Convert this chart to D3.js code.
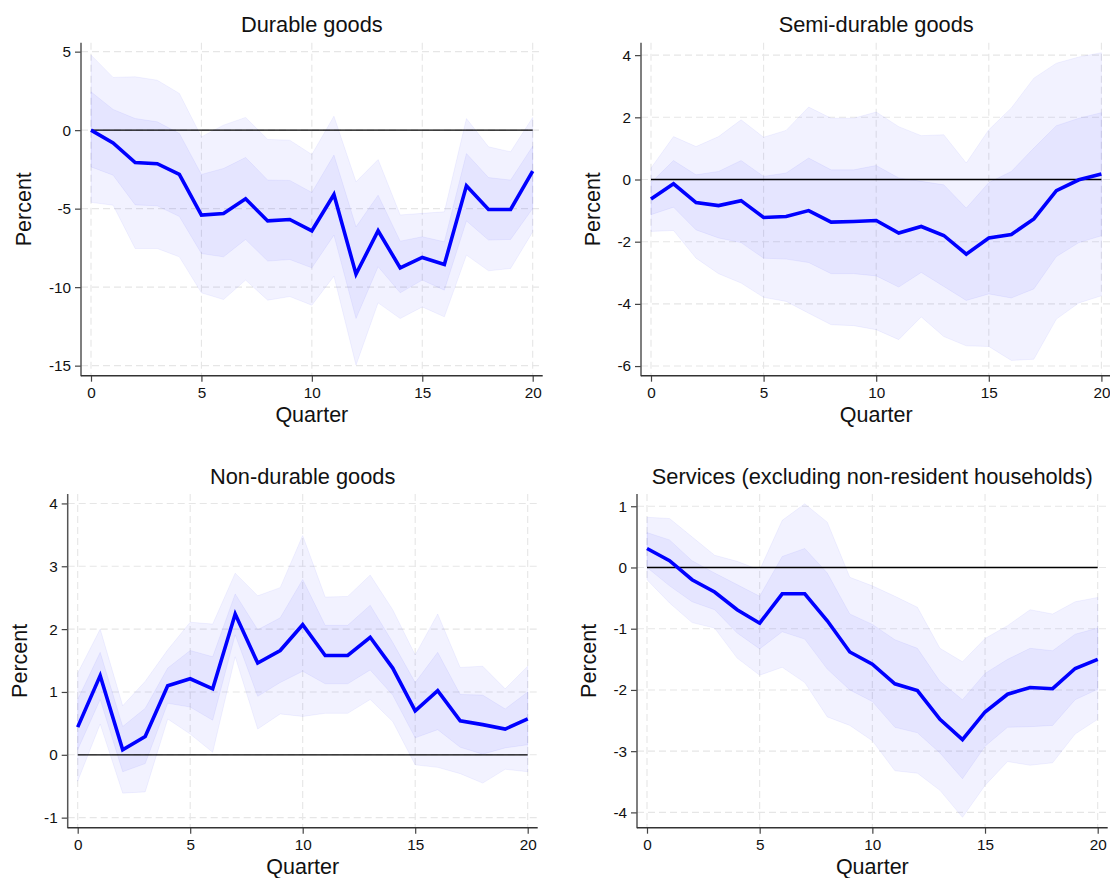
<!DOCTYPE html>
<html>
<head>
<meta charset="utf-8">
<script src="https://cdn.jsdelivr.net/npm/d3@7"></script>
<style>
  body { margin: 0; background: #fff; }
  text { font-family: "Liberation Sans", Arial, sans-serif; fill: #111; }
</style>
</head>
<body>
<script>
// quarters after the shock
const quarters = [0,1,2,3,4,5,6,7,8,9,10,11,12,13,14,15,16,17,18,19,20];
const xTicks = [0, 5, 10, 15, 20];

// Durable goods
const durableTicks = [-15, -10, -5, 0, 5];
const durableMain = [0, -0.81, -2.06, -2.14, -2.82, -5.41, -5.31, -4.37, -5.78, -5.69, -6.41, -4.1, -9.17, -6.41, -8.77, -8.11, -8.56, -3.55, -5.05, -5.05, -2.61];
const durableInnerHi = [2.44, 1.32, 0.74, 0.53, -0.21, -2.82, -2.44, -1.74, -3.18, -3.2, -3.97, -1.59, -6.16, -4.14, -7.07, -6.79, -7.11, -1.49, -3.02, -3.18, -1.02];
const durableInnerLo = [-2.34, -2.87, -4.76, -4.82, -5.5, -7.86, -8.07, -6.96, -8.34, -8.24, -8.77, -6.69, -12.0, -8.7, -10.36, -9.55, -10.19, -5.78, -7.0, -6.96, -4.99];
const durableOuterHi = [4.78, 3.36, 3.4, 3.18, 2.34, -0.43, 0.32, 0.81, -0.59, -0.64, -1.55, 0.89, -3.29, -1.87, -5.4, -5.3, -5.2, 0.74, -1.06, -1.38, 0.81];
const durableOuterLo = [-4.6, -4.78, -7.54, -7.54, -8.07, -10.36, -10.79, -9.55, -10.83, -10.6, -11.15, -9.3, -14.97, -11.0, -12.0, -11.26, -11.89, -7.96, -8.96, -8.81, -6.48];

// Semi-durable goods
const semiTicks = [-6, -4, -2, 0, 2, 4];
const semiMain = [-0.63, -0.14, -0.74, -0.84, -0.68, -1.22, -1.19, -1.0, -1.37, -1.35, -1.32, -1.72, -1.51, -1.8, -2.4, -1.88, -1.77, -1.27, -0.36, -0.01, 0.18];
const semiInnerHi = [-0.1, 0.61, 0.15, 0.26, 0.61, 0.1, 0.21, 0.69, 0.31, 0.31, 0.45, 0.05, -0.06, -0.17, -0.92, -0.1, 0.26, 1.01, 1.73, 1.97, 2.15];
const semiInnerLo = [-1.13, -0.89, -1.62, -1.88, -2.03, -2.53, -2.56, -2.67, -3.03, -3.03, -3.1, -3.46, -2.99, -3.44, -3.89, -3.68, -3.81, -3.52, -2.48, -2.03, -1.81];
const semiOuterHi = [0.37, 1.38, 1.06, 1.38, 1.92, 1.36, 1.58, 2.33, 1.97, 1.97, 2.17, 1.7, 1.41, 1.44, 0.53, 1.6, 2.3, 3.26, 3.74, 3.94, 4.08];
const semiOuterLo = [-1.67, -1.64, -2.53, -3.03, -3.33, -3.79, -3.92, -4.3, -4.67, -4.7, -4.83, -5.15, -4.42, -5.05, -5.35, -5.37, -5.82, -5.78, -4.49, -3.97, -3.74];

// Non-durable goods
const nonTicks = [-1, 0, 1, 2, 3, 4];
const nonMain = [0.44, 1.26, 0.08, 0.29, 1.1, 1.21, 1.05, 2.24, 1.46, 1.66, 2.07, 1.58, 1.58, 1.87, 1.38, 0.7, 1.02, 0.54, 0.48, 0.41, 0.57];
const nonInnerHi = [0.88, 1.63, 0.45, 0.74, 1.38, 1.66, 1.56, 2.56, 1.99, 2.18, 2.79, 2.06, 2.06, 2.38, 1.79, 1.15, 1.63, 0.96, 0.95, 0.73, 1.0];
const nonInnerLo = [0.08, 0.88, -0.27, -0.14, 0.82, 0.76, 0.55, 1.91, 0.93, 1.15, 1.33, 1.13, 1.13, 1.35, 0.95, 0.27, 0.4, 0.12, 0.01, 0.11, 0.16];
const nonOuterHi = [1.3, 2.0, 0.78, 1.17, 1.67, 2.11, 2.08, 2.89, 2.53, 2.66, 3.49, 2.51, 2.52, 2.86, 2.31, 1.59, 2.24, 1.39, 1.41, 1.05, 1.41];
const nonOuterLo = [-0.42, 0.49, -0.61, -0.59, 0.57, 0.33, 0.04, 1.56, 0.41, 0.65, 0.61, 0.66, 0.66, 0.88, 0.53, -0.16, -0.2, -0.3, -0.45, -0.23, -0.27];

// Services (excluding non-resident households)
const servTicks = [-4, -3, -2, -1, 0, 1];
const servMain = [0.31, 0.11, -0.2, -0.4, -0.69, -0.91, -0.43, -0.43, -0.87, -1.38, -1.58, -1.9, -2.01, -2.48, -2.81, -2.36, -2.07, -1.96, -1.98, -1.65, -1.5];
const servInnerHi = [0.57, 0.45, 0.11, -0.09, -0.28, -0.47, 0.18, 0.31, -0.09, -0.76, -0.93, -1.18, -1.32, -1.86, -2.16, -1.73, -1.5, -1.32, -1.36, -1.09, -0.99];
const servInnerLo = [0.0, -0.3, -0.56, -0.69, -1.07, -1.33, -1.05, -1.17, -1.66, -2.0, -2.19, -2.61, -2.7, -3.03, -3.45, -2.92, -2.61, -2.6, -2.58, -2.16, -1.99];
const servOuterHi = [0.82, 0.8, 0.5, 0.2, 0.1, -0.04, 0.77, 1.04, 0.74, -0.16, -0.3, -0.47, -0.65, -1.32, -1.54, -1.16, -0.95, -0.69, -0.76, -0.56, -0.49];
const servOuterLo = [-0.2, -0.58, -0.9, -0.99, -1.48, -1.76, -1.63, -1.88, -2.44, -2.58, -2.83, -3.32, -3.36, -3.64, -4.08, -3.56, -3.17, -3.23, -3.19, -2.72, -2.48];

const panels = [
  { title: "Durable goods", ticks: durableTicks, yDomain: [-15.64, 5.57],
    main: durableMain, innerHi: durableInnerHi, innerLo: durableInnerLo, outerHi: durableOuterHi, outerLo: durableOuterLo,
    frame: { left: 81, top: 42.7, right: 542.7, bottom: 375.7 } },
  { title: "Semi-durable goods", ticks: semiTicks, yDomain: [-6.31, 4.4],
    main: semiMain, innerHi: semiInnerHi, innerLo: semiInnerLo, outerHi: semiOuterHi, outerLo: semiOuterLo,
    frame: { left: 641, top: 42.7, right: 1111.4, bottom: 375.7 } },
  { title: "Non-durable goods", ticks: nonTicks, yDomain: [-1.16, 4.15],
    main: nonMain, innerHi: nonInnerHi, innerLo: nonInnerLo, outerHi: nonOuterHi, outerLo: nonOuterLo,
    frame: { left: 67.7, top: 494, right: 537.7, bottom: 827.7 } },
  { title: "Services (excluding non-resident households)", ticks: servTicks, yDomain: [-4.25, 1.2],
    main: servMain, innerHi: servInnerHi, innerLo: servInnerLo, outerHi: servOuterHi, outerLo: servOuterLo,
    frame: { left: 637, top: 494, right: 1107.7, bottom: 827.7 } }
];

const width = 1110, height = 878;
const xPad = 10;

const svg = d3.select("body").append("svg")
  .attr("width", width)
  .attr("height", height);

panels.forEach(p => {
  const f = p.frame;
  const x = d3.scaleLinear().domain([0, 20]).range([f.left + xPad, f.right - xPad]);
  const y = d3.scaleLinear().domain(p.yDomain).range([f.bottom, f.top]);
  const g = svg.append("g");

  // dashed grid
  g.selectAll(".hgrid").data(p.ticks).enter().append("line")
    .attr("x1", f.left).attr("x2", f.right)
    .attr("y1", d => y(d)).attr("y2", d => y(d))
    .attr("stroke", "#e6e6e6").attr("stroke-width", 1.1)
    .attr("stroke-dasharray", "7,4");
  g.selectAll(".vgrid").data(xTicks).enter().append("line")
    .attr("x1", d => x(d)).attr("x2", d => x(d))
    .attr("y1", f.top).attr("y2", f.bottom)
    .attr("stroke", "#e6e6e6").attr("stroke-width", 1.1)
    .attr("stroke-dasharray", "7,4");

  // confidence bands
  const band = (lo, hi) => d3.area()
    .x((d, i) => x(quarters[i]))
    .y0((d, i) => y(lo[i]))
    .y1((d, i) => y(hi[i]));
  g.append("path").datum(quarters)
    .attr("d", band(p.outerLo, p.outerHi))
    .attr("fill", "rgb(0,0,255)").attr("fill-opacity", 0.05)
    .attr("stroke", "rgb(0,0,255)").attr("stroke-opacity", 0.05).attr("stroke-width", 1);
  g.append("path").datum(quarters)
    .attr("d", band(p.innerLo, p.innerHi))
    .attr("fill", "rgb(0,0,255)").attr("fill-opacity", 0.05)
    .attr("stroke", "rgb(0,0,255)").attr("stroke-opacity", 0.05).attr("stroke-width", 1);

  // zero line
  g.append("line")
    .attr("x1", x(0)).attr("x2", x(20))
    .attr("y1", y(0)).attr("y2", y(0))
    .attr("stroke", "#000").attr("stroke-width", 1.3);

  // impulse response
  g.append("path").datum(p.main)
    .attr("d", d3.line().x((d, i) => x(quarters[i])).y(d => y(d)))
    .attr("fill", "none").attr("stroke", "#0000ff")
    .attr("stroke-width", 3.6).attr("stroke-linejoin", "miter");

  // axes (hyphen minus, as in the original)
  const fmt = d => String(d);
  const yAxis = g.append("g")
    .attr("transform", `translate(${f.left},0)`)
    .call(d3.axisLeft(y).tickValues(p.ticks).tickSize(6).tickPadding(4).tickFormat(fmt));
  const xAxis = g.append("g")
    .attr("transform", `translate(0,${f.bottom})`)
    .call(d3.axisBottom(x).tickValues(xTicks).tickSize(6).tickPadding(5).tickFormat(fmt));
  [yAxis, xAxis].forEach(a => {
    a.select(".domain").remove();
    a.selectAll("line").attr("stroke", "#444").attr("stroke-width", 1.2);
    a.selectAll("text").attr("font-size", 15.3).attr("font-family", "Liberation Sans, Arial, sans-serif").attr("fill", "#111");
  });
  g.append("line")
    .attr("x1", f.left).attr("x2", f.left).attr("y1", f.top).attr("y2", f.bottom + 0.6)
    .attr("stroke", "#555").attr("stroke-width", 1.5);
  g.append("line")
    .attr("x1", f.left).attr("x2", f.right).attr("y1", f.bottom).attr("y2", f.bottom)
    .attr("stroke", "#333").attr("stroke-width", 1.5);

  const cx = (f.left + f.right) / 2;
  // title
  g.append("text")
    .attr("x", cx).attr("y", f.top - 10.5)
    .attr("text-anchor", "middle").attr("font-size", 21.8)
    .text(p.title);
  // x label
  g.append("text")
    .attr("x", cx).attr("y", f.bottom + 46.5)
    .attr("text-anchor", "middle").attr("font-size", 21.5)
    .text("Quarter");
  // y label, placed left of the tick labels
  const lb = yAxis.node().getBBox();
  const lx = f.left + lb.x - 17.5;
  g.append("text")
    .attr("transform", `translate(${lx},${(f.top + f.bottom) / 2}) rotate(-90)`)
    .attr("text-anchor", "middle").attr("font-size", 21.5)
    .text("Percent");
});
</script>
</body>
</html>
